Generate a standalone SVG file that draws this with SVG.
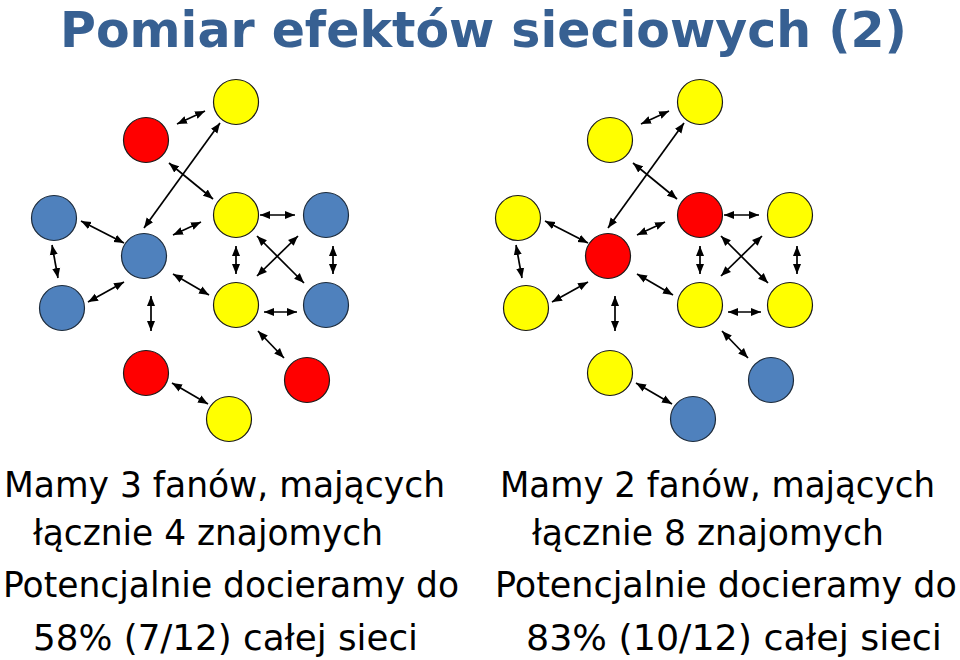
<svg xmlns="http://www.w3.org/2000/svg" width="960" height="660" viewBox="0 0 960 660">
<style>
.title{font-family:"DejaVu Sans Condensed","DejaVu Sans","Liberation Sans",sans-serif;font-stretch:condensed;font-weight:bold;font-size:50px;fill:#376092;text-anchor:middle}
.body{font-family:"DejaVu Sans","Liberation Sans",sans-serif;font-size:36px;fill:#000}
.blue{fill:#4F81BD;stroke:#1c2a3a;stroke-width:1.2}
.red{fill:#FF0000;stroke:#1a1a1a;stroke-width:1.2}
.yellow{fill:#FFFF00;stroke:#1a1a1a;stroke-width:1.2}
.conn line{stroke:#000;stroke-width:1.7;marker-start:url(#ah);marker-end:url(#ah)}
</style>
<defs>
<marker id="ah" markerUnits="userSpaceOnUse" markerWidth="11" markerHeight="9" refX="10" refY="4.5" orient="auto-start-reverse">
<path d="M0,0.5 L10,4.5 L0,8.5 z" fill="#000"/>
</marker>
</defs>
<rect width="960" height="660" fill="#fff"/>
<text class="title" x="483.5" y="47" textLength="847" lengthAdjust="spacingAndGlyphs">Pomiar efektów sieciowych (2)</text>

<g id="left-graph">
<g id="L-yellow-top"><circle class="yellow" cx="236" cy="102" r="22.5"/></g>
<g id="L-red-top"><circle class="red" cx="146" cy="140" r="22.5"/></g>
<g id="L-blue-left"><circle class="blue" cx="54" cy="218" r="22.5"/></g>
<g id="L-yellow-mid"><circle class="yellow" cx="236" cy="215" r="22.5"/></g>
<g id="L-blue-right-top"><circle class="blue" cx="326" cy="215" r="22.5"/></g>
<g id="L-blue-center"><circle class="blue" cx="144" cy="256" r="22.5"/></g>
<g id="L-blue-lower-left"><circle class="blue" cx="62" cy="308" r="22.5"/></g>
<g id="L-yellow-center-right"><circle class="yellow" cx="236" cy="305" r="22.5"/></g>
<g id="L-blue-right-bottom"><circle class="blue" cx="326" cy="305" r="22.5"/></g>
<g id="L-red-bottom"><circle class="red" cx="146" cy="373" r="22.5"/></g>
<g id="L-red-right-bottom"><circle class="red" cx="307" cy="380" r="22.5"/></g>
<g id="L-yellow-bottom"><circle class="yellow" cx="229" cy="419" r="22.5"/></g>
</g>

<g id="right-graph" transform="translate(464,0)">
<g id="R-yellow-top"><circle class="yellow" cx="236" cy="102" r="22.5"/></g>
<g id="R-yellow-top-left"><circle class="yellow" cx="146" cy="140" r="22.5"/></g>
<g id="R-yellow-left"><circle class="yellow" cx="54" cy="218" r="22.5"/></g>
<g id="R-red-mid"><circle class="red" cx="236" cy="215" r="22.5"/></g>
<g id="R-yellow-right-top"><circle class="yellow" cx="326" cy="215" r="22.5"/></g>
<g id="R-red-center"><circle class="red" cx="144" cy="256" r="22.5"/></g>
<g id="R-yellow-lower-left"><circle class="yellow" cx="62" cy="308" r="22.5"/></g>
<g id="R-yellow-center-right"><circle class="yellow" cx="236" cy="305" r="22.5"/></g>
<g id="R-yellow-right-bottom"><circle class="yellow" cx="326" cy="305" r="22.5"/></g>
<g id="R-yellow-bottom"><circle class="yellow" cx="146" cy="373" r="22.5"/></g>
<g id="R-blue-right"><circle class="blue" cx="307" cy="380" r="22.5"/></g>
<g id="R-blue-bottom"><circle class="blue" cx="229" cy="419" r="22.5"/></g>
</g>

<g id="connectors" class="conn">
<g id="left-connectors">
<line x1="177" y1="124" x2="205" y2="111"/>
<line x1="220" y1="123" x2="144" y2="228"/>
<line x1="169" y1="163" x2="213" y2="199"/>
<line x1="81" y1="221" x2="124" y2="243"/>
<line x1="173" y1="235" x2="201" y2="222"/>
<line x1="260" y1="215" x2="295" y2="215"/>
<line x1="52" y1="245" x2="58" y2="278"/>
<line x1="88" y1="302" x2="124" y2="282"/>
<line x1="151" y1="296" x2="151" y2="331"/>
<line x1="173" y1="274" x2="209" y2="295"/>
<line x1="236" y1="246" x2="236" y2="274"/>
<line x1="257" y1="236" x2="304" y2="283"/>
<line x1="298" y1="236" x2="257" y2="276"/>
<line x1="333" y1="246" x2="333" y2="274"/>
<line x1="264" y1="312" x2="297" y2="312"/>
<line x1="258" y1="331" x2="284" y2="358"/>
<line x1="172" y1="383" x2="208" y2="404"/>
</g>
<g id="right-connectors" transform="translate(464,0)">
<line x1="177" y1="124" x2="205" y2="111"/>
<line x1="220" y1="123" x2="144" y2="228"/>
<line x1="169" y1="163" x2="213" y2="199"/>
<line x1="81" y1="221" x2="124" y2="243"/>
<line x1="173" y1="235" x2="201" y2="222"/>
<line x1="260" y1="215" x2="295" y2="215"/>
<line x1="52" y1="245" x2="58" y2="278"/>
<line x1="88" y1="302" x2="124" y2="282"/>
<line x1="151" y1="296" x2="151" y2="331"/>
<line x1="173" y1="274" x2="209" y2="295"/>
<line x1="236" y1="246" x2="236" y2="274"/>
<line x1="257" y1="236" x2="304" y2="283"/>
<line x1="298" y1="236" x2="257" y2="276"/>
<line x1="333" y1="246" x2="333" y2="274"/>
<line x1="264" y1="312" x2="297" y2="312"/>
<line x1="258" y1="331" x2="284" y2="358"/>
<line x1="172" y1="383" x2="208" y2="404"/>
</g>
</g>

<g id="left-text" class="body">
<text x="4" y="497" textLength="441" lengthAdjust="spacingAndGlyphs">Mamy 3 fanów, mających</text>
<text x="33" y="545" textLength="350" lengthAdjust="spacingAndGlyphs">łącznie 4 znajomych</text>
<text x="3" y="597" textLength="456" lengthAdjust="spacingAndGlyphs">Potencjalnie docieramy do</text>
<text x="33" y="650" textLength="385" lengthAdjust="spacingAndGlyphs">58% (7/12) całej sieci</text>
</g>
<g id="right-text" class="body">
<text x="500" y="497" textLength="435" lengthAdjust="spacingAndGlyphs">Mamy 2 fanów, mających</text>
<text x="532" y="545" textLength="352" lengthAdjust="spacingAndGlyphs">łącznie 8 znajomych</text>
<text transform="translate(495,597) scale(0.96,1)" x="0" y="0" textLength="481" lengthAdjust="spacingAndGlyphs">Potencjalnie docieramy do</text>
<text x="526" y="650" textLength="416" lengthAdjust="spacingAndGlyphs">83% (10/12) całej sieci</text>
</g>
</svg>
